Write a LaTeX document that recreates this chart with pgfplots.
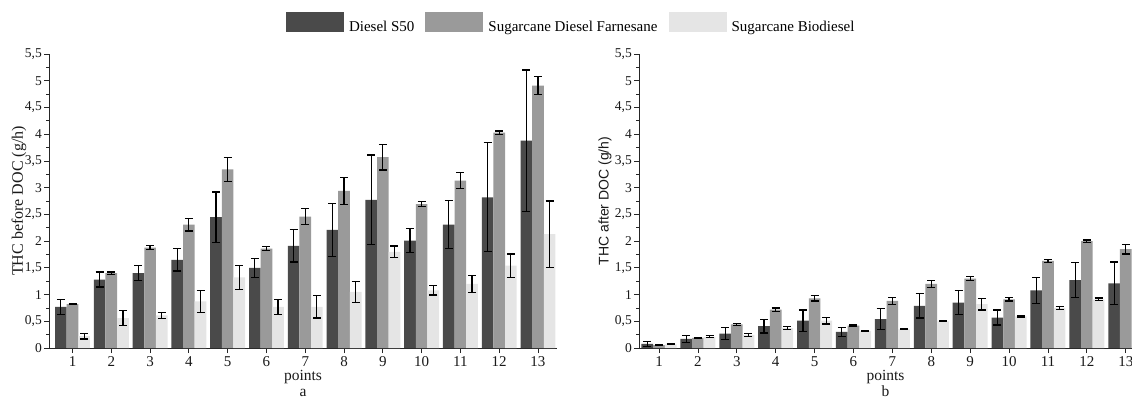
\documentclass[border=0pt]{standalone}
\usepackage{fontspec}
\setmainfont{Liberation Serif}
\newfontfamily\sansfont{Liberation Sans}
\usepackage{pgfplots}
\pgfplotsset{compat=1.18}
\usepackage{pgfplotstable}

\definecolor{dieselS}{HTML}{4A4A4A}
\definecolor{farnesane}{HTML}{9A9A9A}
\definecolor{biodiesel}{HTML}{E5E5E5}

% THC before DOC (g/h): mean and half-range of the error bar
\pgfplotstableread{
x  y     e
1  0.77  0.14
2  1.28  0.14
3  1.40  0.14
4  1.65  0.21
5  2.45  0.47
6  1.50  0.18
7  1.91  0.30
8  2.21  0.50
9  2.77  0.84
10 2.01  0.22
11 2.31  0.45
12 2.82  1.02
13 3.88  1.32
}\beforeDiesel
\pgfplotstableread{
x  y     e
1  0.82  0.01
2  1.40  0.02
3  1.88  0.04
4  2.31  0.12
5  3.34  0.23
6  1.86  0.04
7  2.46  0.15
8  2.94  0.25
9  3.57  0.24
10 2.69  0.05
11 3.13  0.15
12 4.03  0.03
13 4.91  0.17
}\beforeFarnesane
\pgfplotstableread{
x  y     e
1  0.22  0.05
2  0.56  0.14
3  0.61  0.06
4  0.87  0.21
5  1.32  0.23
6  0.77  0.14
7  0.77  0.21
8  1.05  0.20
9  1.80  0.11
10 1.08  0.09
11 1.20  0.16
12 1.54  0.22
13 2.13  0.62
}\beforeBiodiesel

% THC after DOC (g/h)
\pgfplotstableread{
x  y      e
1  0.075  0.04
2  0.17   0.06
3  0.27   0.11
4  0.41   0.13
5  0.51   0.20
6  0.30   0.09
7  0.54   0.20
8  0.79   0.23
9  0.85   0.23
10 0.57   0.14
11 1.08   0.24
12 1.27   0.33
13 1.21   0.40
}\afterDiesel
\pgfplotstableread{
x  y      e
1  0.056  0.005
2  0.19   0.01
3  0.44   0.02
4  0.72   0.03
5  0.93   0.05
6  0.42   0.01
7  0.88   0.07
8  1.20   0.07
9  1.30   0.04
10 0.91   0.03
11 1.63   0.03
12 2.00   0.02
13 1.85   0.09
}\afterFarnesane
\pgfplotstableread{
x  y      e
1  0.07   0.005
2  0.21   0.02
3  0.24   0.03
4  0.37   0.025
5  0.51   0.06
6  0.32   0.005
7  0.35   0.01
8  0.50   0.005
9  0.82   0.11
10 0.59   0.01
11 0.75   0.03
12 0.91   0.025
}\afterBiodiesel

\pgfplotsset{
  thcbars/.style={
    scale only axis,
    height=294pt,
    ybar, bar width=0.3,
    ymin=0, ymax=5.5,
    ytick={0,0.5,...,5.5}, minor y tick num=1,
    xtick={1,...,13},
    axis x line*=bottom, axis y line*=left,
    axis line style={line width=1pt, black!85, -},
    tick style={line width=0.8pt, black!85},
    tick align=outside,
    major tick length=5pt, minor tick length=3pt,
    /pgf/number format/assume math mode=true,
    yticklabel style={/pgf/number format/.cd, use comma, fixed,
      /tikz/.cd, font=\fontsize{13.5}{16}\selectfont, inner sep=2pt},
    xticklabel style={font=\fontsize{15}{18}\selectfont},
    tick label style={black!90},
    xlabel style={at={(axis description cs:0.5,-0.074)}, anchor=north, align=center,
      inner sep=0pt, font=\fontsize{15.5}{16}\selectfont, black!90},
    legend image code/.code={\fill[##1] (0pt,-5pt) rectangle (58pt,15pt);},
    error bars/y dir=both, error bars/y explicit,
    error bars/error bar style={line width=1.2pt, black},
    error bars/error mark options={rotate=90, mark size=4pt, line width=1.2pt, black},
  },
  dieselbar/.style={fill=dieselS, draw=none, bar shift=-0.3},
  farnbar/.style={fill=farnesane, draw=none, bar shift=0},
  biobar/.style={fill=biodiesel, draw=none, bar shift=0.3},
}

\begin{document}
\begin{tikzpicture}
\path[use as bounding box] (0pt,0pt) rectangle (1132pt,399pt);

\begin{axis}[thcbars,
  at={(49pt,51pt)}, anchor=south west,
  width=508pt,
  xmin=0.394, xmax=13.49,
  ylabel={THC before DOC (g/h)},
  ylabel style={at={(axis description cs:-0.059,0.5)}, anchor=center,
    font=\fontsize{16}{18}\selectfont, black!90},
  xlabel={points\\a},
  legend style={at={(axis description cs:1.028,1.105)}, anchor=center,
    draw=none, fill=none, legend columns=3,
    font=\fontsize{15}{18}\selectfont,
    /tikz/every odd column/.append style={column sep=3pt},
    /tikz/every even column/.append style={column sep=9pt}},
]
\addplot[dieselbar] table[x=x, y=y, y error=e] {\beforeDiesel};
\addplot[farnbar] table[x=x, y=y, y error=e] {\beforeFarnesane};
\addplot[biobar] table[x=x, y=y, y error=e] {\beforeBiodiesel};
\legend{Diesel S50, Sugarcane Diesel Farnesane, Sugarcane Biodiesel}
\end{axis}

\begin{axis}[thcbars,
  at={(639pt,51pt)}, anchor=south west,
  width=493pt,
  xmin=0.486, xmax=13.16,
  ylabel={THC after DOC (g/h)},
  ylabel style={at={(axis description cs:-0.069,0.5)}, anchor=center,
    font=\sansfont\fontsize{14}{16}\selectfont, black!90},
  xlabel={points\\b},
]
\addplot[dieselbar] table[x=x, y=y, y error=e] {\afterDiesel};
\addplot[farnbar] table[x=x, y=y, y error=e] {\afterFarnesane};
\addplot[biobar] table[x=x, y=y, y error=e] {\afterBiodiesel};
\end{axis}
\end{tikzpicture}
\end{document}
